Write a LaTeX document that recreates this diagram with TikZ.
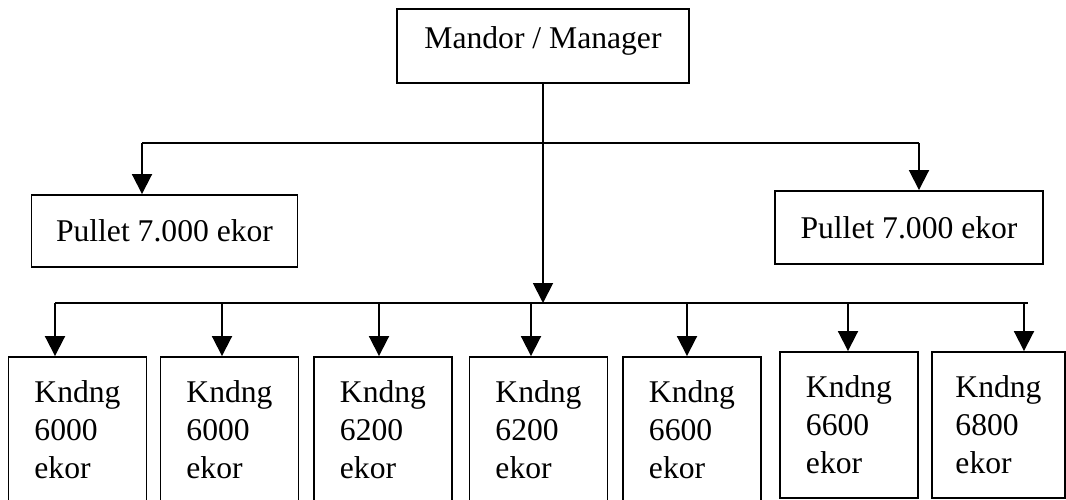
\documentclass[tikz,border=0pt]{standalone}
\usepackage{fontspec}
\setmainfont{Liberation Serif}
\usetikzlibrary{arrows.meta, positioning, calc}

\begin{document}
\begin{tikzpicture}[
  x=0.02cm, y=-0.02cm,
  box/.style={rectangle, draw=black, line width=1.1pt, minimum width=5.32cm, minimum height=1.44cm, align=center, font=\fontsize{18}{21.6}\selectfont},
  kandang/.style={rectangle, draw=black, line width=1.1pt, minimum width=2.76cm, minimum height=2.92cm, align=left, font=\fontsize{18}{21.6}\selectfont},
  line/.style={draw=black, line width=1.1pt},
  arrow/.style={-{Triangle[length=0.4cm, width=0.4cm]}, draw=black, line width=1.1pt}
]
  \useasboundingbox (0,0) rectangle (1066,500);

  % Top
  \node[box, minimum width=5.84cm, minimum height=1.48cm, text depth=0.33cm] (manager) at (543, 46) {Mandor / Manager};

  % Pullet
  \node[box] (pullL) at (164.5, 231) {Pullet 7.000 ekor};
  \node[box, minimum width=5.36cm, minimum height=1.46cm] (pullR) at (909, 227.5) {Pullet 7.000 ekor};

  % Kandang
  \node[kandang] (k1) at (77.5, 430) {Kndng\\6000\\ekor};
  \node[kandang] (k2) at (229.5, 430) {Kndng\\6000\\ekor};
  \node[kandang] (k3) at (383, 430) {Kndng\\6200\\ekor};
  \node[kandang] (k4) at (538.5, 430) {Kndng\\6200\\ekor};
  \node[kandang] (k5) at (692, 430) {Kndng\\6600\\ekor};
  \node[kandang] (k6) at (849, 425) {Kndng\\6600\\ekor};
  \node[kandang, minimum width=2.66cm] (k7) at (998.5, 425) {Kndng\\6800\\ekor};

  % Lines
  \coordinate (topL) at (142, 143);
  \coordinate (topR) at (919, 143);
  \coordinate (busL) at (55, 303);
  \coordinate (busR) at (1028, 303);

  \draw[line] (topL) -- (topR);
  \draw[arrow] (topL) -- (topL |- pullL.north);
  \draw[arrow] (topR) -- (topR |- pullR.north);
  \draw[arrow] (manager.south) -- (manager.south |- busL);
  \draw[line] (busL) -- (busR);

  \foreach \i/\dx in {1/-22.5, 2/-7.5, 3/-4, 4/-7.5, 5/-5, 6/-1, 7/25.5} {
    \coordinate (t\i) at ([xshift=\dx*0.02cm]k\i.north);
    \draw[arrow] (busL -| t\i) -- (t\i);
  }
\end{tikzpicture}
\end{document}
